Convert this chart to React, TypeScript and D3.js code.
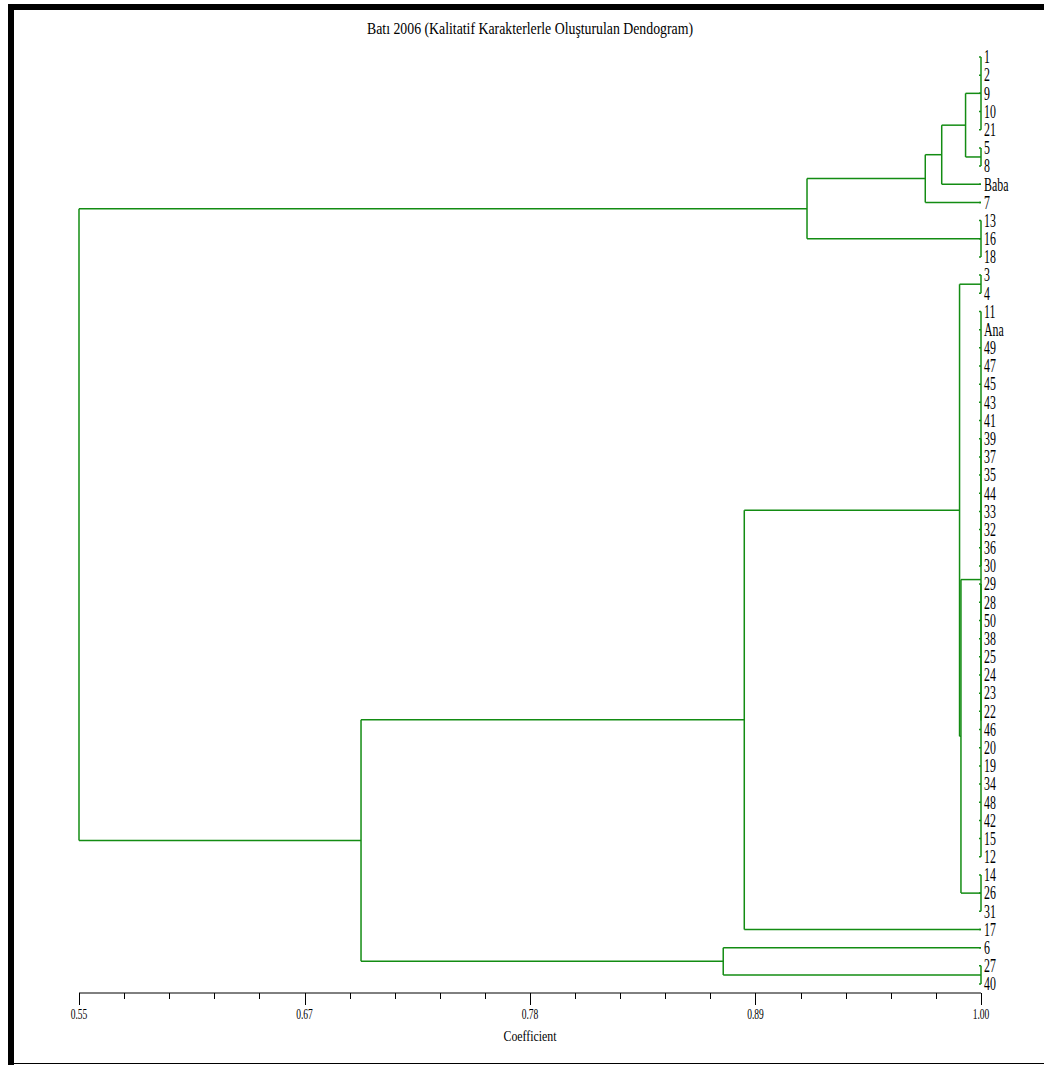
import React from "react";
import * as d3 from "d3";

const title = "Batı 2006 (Kalitatif Karakterlerle Oluşturulan Dendogram)";
const axisTitle = "Coefficient";

const leafLabels = [
  "1", "2", "9", "10", "21", "5", "8", "Baba", "7", "13", "16", "18",
  "3", "4", "11", "Ana", "49", "47", "45", "43", "41", "39", "37", "35",
  "44", "33", "32", "36", "30", "29", "28", "50", "38", "25", "24", "23",
  "22", "46", "20", "19", "34", "48", "42", "15", "12", "14", "26", "31",
  "17", "6", "27", "40",
];

// [node id, children (leaf labels or node ids), coefficient]
const merges: [string, string[], number][] = [
  ["g1", ["1", "2", "9", "10", "21"], 1.0],
  ["g2", ["5", "8"], 1.0],
  ["n1", ["g1", "g2"], 0.9923],
  ["n2", ["n1", "Baba"], 0.9804],
  ["n3", ["n2", "7"], 0.9722],
  ["g3", ["13", "16", "18"], 1.0],
  ["n4", ["n3", "g3"], 0.9132],
  ["g4", ["3", "4"], 1.0],
  ["g5a", ["11", "Ana", "49", "47", "45", "43", "41", "39", "37", "35", "44", "33", "32", "36", "30"], 1.0],
  ["g5b", ["29", "28", "50", "38", "25", "24", "23", "22", "46", "20", "19", "34", "48", "42", "15", "12"], 1.0],
  ["g5", ["g5a", "g5b"], 1.0],
  ["g6", ["14", "26", "31"], 1.0],
  ["n5", ["g5", "g6"], 0.99],
  ["n6", ["g4", "n5"], 0.9893],
  ["n7", ["n6", "17"], 0.8819],
  ["g7", ["27", "40"], 1.0],
  ["n8", ["6", "g7"], 0.8714],
  ["n9", ["n7", "n8"], 0.6907],
  ["root", ["n4", "n9"], 0.55],
];

const tickValues = d3.range(21).map((i) => 0.55 + i * 0.0225);
const majorTickLabels = ["0.55", "0.67", "0.78", "0.89", "1.00"];

const GREEN = "#138c13";
const FONT = "'Liberation Serif', 'Times New Roman', serif";

export default function App() {
  const x = d3.scaleLinear().domain([0.55, 1.0]).range([79, 981]);
  const y = d3.scaleLinear().domain([0, leafLabels.length - 1]).range([57, 984]);

  const pos: Record<string, { y: number; c: number }> = {};
  leafLabels.forEach((l, i) => (pos[l] = { y: y(i), c: 1.0 }));
  const segs: { x1: number; y1: number; x2: number; y2: number }[] = [];
  merges.forEach(([id, children, c]) => {
    const ys = children.map((ch) => pos[ch].y);
    const y0 = d3.min(ys)!;
    const y1 = d3.max(ys)!;
    segs.push({ x1: x(c), y1: y0, x2: x(c), y2: y1 });
    children.forEach((ch) => {
      if (pos[ch].c !== c) segs.push({ x1: x(c), y1: pos[ch].y, x2: x(pos[ch].c), y2: pos[ch].y });
    });
    pos[id] = { y: (y0 + y1) / 2, c };
  });

  const axisY = 993;

  return (
    <svg
      width={1044}
      height={1065}
      style={{ position: "absolute", left: 0, top: 0, background: "#fff" }}
    >
      <rect x={0} y={0} width={1044} height={1065} fill="#fff" />
      {/* frame */}
      <rect x={8} y={4} width={1036} height={6} fill="#000" />
      <rect x={8} y={4} width={6} height={1061} fill="#000" />
      <line x1={8} x2={1044} y1={1063.5} y2={1063.5} stroke="#000" strokeWidth={1} />

      <text
        x={530}
        y={34}
        textAnchor="middle"
        fontFamily={FONT}
        fontSize={16}
        textLength={326}
        lengthAdjust="spacingAndGlyphs"
        fill="#000"
      >
        {title}
      </text>

      {/* dendrogram */}
      <g stroke={GREEN} strokeWidth={1.5} fill="none">
        {segs.map((s, i) => (
          <line key={i} x1={s.x1} y1={s.y1} x2={s.x2} y2={s.y2} />
        ))}
        {leafLabels.map((l, i) => (
          <line key={"t" + i} x1={x(1.0) - 2} x2={x(1.0)} y1={y(i)} y2={y(i)} />
        ))}
      </g>

      {leafLabels.map((l, i) => (
        <text
          key={"l" + i}
          transform={`translate(${x(1.0) + 3},${y(i)}) scale(0.66,1)`}
          dy="0.35em"
          fontFamily={FONT}
          fontSize={18}
          fill="#000"
        >
          {l}
        </text>
      ))}

      {/* axis */}
      <g stroke="#000" strokeWidth={1}>
        <line x1={x(0.55)} x2={x(1.0)} y1={axisY} y2={axisY} />
        {tickValues.map((v, i) => (
          <line
            key={"k" + i}
            x1={Math.round(x(v)) + 0.5}
            x2={Math.round(x(v)) + 0.5}
            y1={axisY}
            y2={i % 5 === 0 ? axisY + 12 : axisY + 6}
          />
        ))}
      </g>
      {tickValues
        .filter((_, i) => i % 5 === 0)
        .map((v, j) => (
          <text
            key={"tl" + j}
            transform={`translate(${x(v)},${axisY + 26}) scale(0.68,1)`}
            textAnchor="middle"
            fontFamily={FONT}
            fontSize={14}
            fill="#000"
          >
            {majorTickLabels[j]}
          </text>
        ))}
      <text
        x={530}
        y={1041}
        textAnchor="middle"
        fontFamily={FONT}
        fontSize={15}
        textLength={53}
        lengthAdjust="spacingAndGlyphs"
        fill="#000"
      >
        {axisTitle}
      </text>
    </svg>
  );
}
